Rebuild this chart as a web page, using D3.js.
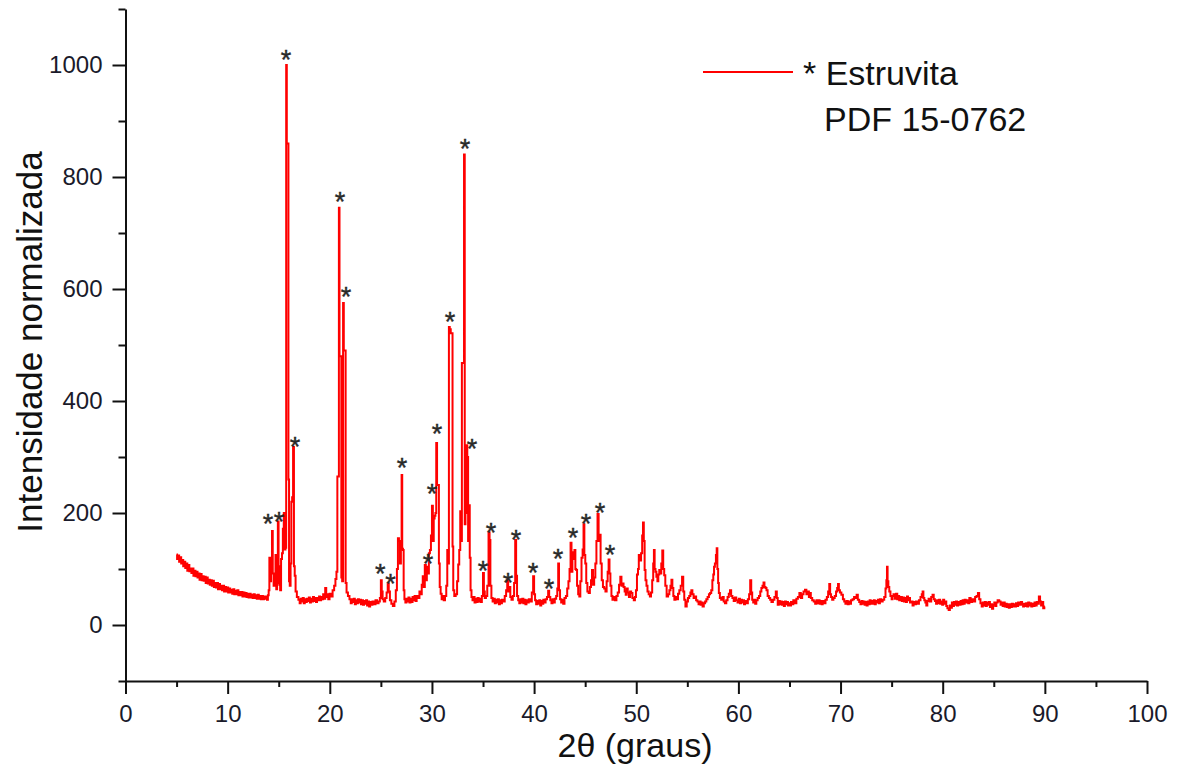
<!DOCTYPE html>
<html><head><meta charset="utf-8">
<script src="https://cdn.jsdelivr.net/npm/d3@7"></script>
<style>body{margin:0;background:#fff}svg text{font-family:Arial,"Liberation Sans",sans-serif}</style>
</head><body><svg id="c" width="1179" height="771"></svg>
<script>
// 2θ (deg), normalised intensity
const scanA = [[5.0,126],[5.1,118],[5.2,124],[5.3,113],[5.4,121],[5.5,110],[5.6,116],[5.7,105],[5.8,113],[5.9,102],[6.0,110],[6.1,97],[6.2,107],[6.3,96],[6.4,101],[6.5,93],[6.6,101],[6.7,88],[6.8,97],[6.9,87],[7.0,95],[7.1,85],[7.2,92],[7.3,81],[7.4,91],[7.5,80],[7.6,87],[7.7,79],[7.8,86],[7.9,75],[8.0,85],[8.1,74],[8.2,81],[8.3,72],[8.4,80],[8.5,70],[8.6,79],[8.7,68],[8.8,75],[8.9,67],[9.0,75],[9.1,64],[9.2,73],[9.3,64],[9.4,70],[9.5,62],[9.6,70],[9.7,60],[9.8,68],[9.9,60],[10.0,67],[10.1,58],[10.2,65],[10.3,58],[10.4,63],[10.5,56],[10.6,64],[10.7,55],[10.8,61],[10.9,55],[11.0,62],[11.1,53],[11.2,59],[11.3,53],[11.4,59],[11.5,51],[11.6,58],[11.7,51],[11.8,57],[11.9,50],[12.0,56],[12.1,49],[12.2,56],[12.3,49],[12.4,54],[12.5,48],[12.6,55],[12.7,48],[12.8,53],[12.9,47],[13.0,54],[13.1,47],[13.2,52],[13.3,46],[13.4,52],[13.5,46],[13.6,51],[13.7,47],[13.8,51],[13.9,45],[13.98,53],
[14.05,62],[14.12,120],[14.2,78],[14.3,95],[14.38,168],[14.45,92],[14.55,70],[14.65,82],[14.72,125],[14.8,64],[14.88,75],[14.95,185],[15.02,105],[15.1,72],[15.18,62],[15.28,118],[15.36,128],[15.45,172],[15.54,200],[15.62,135],[15.7,138],[15.76,1000],[15.82,860],[15.92,860],[15.98,260],[16.04,78],[16.12,70],[16.2,110],[16.27,220],[16.36,228],[16.45,318],[16.53,105],[16.6,88],[16.7,60],[16.85,50],
[17.0,45],[17.1,39],[17.2,47],[17.3,42],[17.4,48],[17.5,39],[17.6,46],[17.7,41],[17.8,47],[17.9,43],[18.0,49],[18.1,40],[18.2,47],[18.3,42],[18.4,50],[18.5,43],[18.6,48],[18.7,41],[18.8,48],[18.9,44],[19.0,51],[19.1,44],[19.2,50],[19.3,46],[19.4,55],[19.5,47],[19.6,66],[19.7,50],[19.8,55],[19.9,46],[20.05,56],[20.2,51],[20.35,62],[20.5,70],[20.6,82],[20.7,95]];
const scanB = [[20.78,265],[20.86,265],[20.92,745],[20.98,480],[21.1,480],[21.16,85],[21.26,78],[21.34,575],[21.4,490],[21.52,490],[21.58,75],[21.7,58],[21.85,52],[22.0,46],[22.1,39],[22.2,46],[22.3,41],[22.4,47],[22.5,37],[22.6,44],[22.7,39],[22.8,46],[22.9,40],[23.0,45],[23.1,37],[23.2,44],[23.3,36],[23.4,43],[23.5,38],[23.6,44],[23.7,35],[23.8,42],[23.9,33],[24.0,41],[24.1,36],[24.25,42],[24.4,37],[24.55,44],[24.7,39],[24.85,42],[24.95,48],[25.05,80],[25.12,60],[25.22,46],[25.35,42],[25.5,48],[25.62,58],[25.72,74],[25.82,60],[25.95,44],[26.1,38],[26.25,34],[26.4,42],[26.52,62],[26.62,100],[26.72,155],[26.82,150],[26.92,110],[27.0,148],[27.06,268],[27.12,136],[27.2,134],[27.26,62],[27.35,46],[27.45,40],[27.55,47],[27.65,42],[27.75,49],[27.85,40],[27.95,47],[28.05,41],[28.15,50],[28.25,44],[28.35,52],[28.45,43],[28.55,52],[28.7,48],[28.85,60],[28.95,55],[29.05,72],[29.15,87],[29.25,68],[29.35,107],[29.45,80],[29.55,104],[29.65,92],[29.75,128],[29.85,134],[29.95,160],[30.05,213],[30.13,150],[30.22,190],[30.3,195],[30.38,200],[30.46,325],[30.54,250],[30.64,250],[30.72,110],[30.8,68],[30.9,56],[31.0,46],[31.1,52],[31.2,44],[31.35,52],[31.45,70],[31.55,134],[31.62,110],[31.7,532],[31.78,528],[31.9,521],[31.98,521],[32.05,140],[32.12,62],[32.25,52],[32.4,55],[32.52,78],[32.62,108],[32.72,134],[32.82,203],[32.9,150],[32.96,468],[33.1,468],[33.18,840],[33.24,180],[33.32,200],[33.42,321],[33.5,300],[33.58,150],[33.66,214],[33.74,120],[33.82,62],[33.92,50],[34.02,44],[34.12,50],[34.22,40],[34.32,47],[34.42,41],[34.52,48],[34.62,42],[34.72,47],[34.82,41],[34.95,52]];
const scanC = [[35.05,93],[35.12,60],[35.22,48],[35.35,52],[35.48,70],[35.6,165],[35.68,152],[35.76,70],[35.88,48],[36.0,42],[36.1,47],[36.2,39],[36.3,45],[36.4,40],[36.5,46],[36.6,37],[36.7,44],[36.8,39],[36.9,45],[37.05,42],[37.2,52],[37.32,62],[37.42,80],[37.5,60],[37.62,68],[37.72,50],[37.85,45],[37.98,52],[38.1,75],[38.2,152],[38.28,88],[38.38,52],[38.5,44],[38.6,39],[38.7,46],[38.8,40],[38.9,47],[39.0,39],[39.1,45],[39.2,37],[39.3,44],[39.4,40],[39.55,46],[39.7,42],[39.85,58],[39.96,87],[40.04,55],[40.15,44],[40.25,37],[40.35,43],[40.45,38],[40.55,44],[40.65,35],[40.75,43],[40.85,38],[40.95,45],[41.05,40],[41.2,46],[41.32,50],[41.43,61],[41.52,50],[41.65,44],[41.75,39],[41.85,46],[41.95,40],[42.1,47],[42.22,52],[42.32,65],[42.4,110],[42.48,62],[42.6,46],[42.7,40],[42.8,45],[42.9,38],[43.05,48],[43.18,52],[43.3,65],[43.42,78],[43.52,100],[43.62,147],[43.7,95],[43.8,118],[43.9,130],[44.0,134],[44.08,100],[44.16,98],[44.25,70],[44.38,55],[44.47,51],[44.58,78],[44.7,120],[44.8,135],[44.88,180],[44.96,125],[45.06,110],[45.15,75],[45.28,60],[45.4,57],[45.52,68],[45.62,80],[45.72,98],[45.82,72],[45.94,85],[46.05,110],[46.15,150],[46.27,198],[46.36,150],[46.46,161],[46.56,110],[46.68,80],[46.8,68],[46.92,65],[47.05,60],[47.15,78],[47.25,95],[47.34,117],[47.42,92],[47.52,70],[47.62,52],[47.72,45],[47.85,50],[48.0,44],[48.12,52],[48.25,58],[48.38,72],[48.5,86],[48.6,70],[48.7,74],[48.81,68],[48.92,60],[49.02,54],[49.11,65],[49.22,58],[49.35,50],[49.45,60],[49.55,57],[49.7,48],[49.82,44],[49.92,50],[50.02,62],[50.12,90],[50.22,100],[50.28,125],[50.4,115],[50.54,128],[50.62,160],[50.7,183],[50.78,150],[50.86,98],[50.95,80],[51.05,70],[51.15,60],[51.28,55],[51.39,51],[51.5,58],[51.62,80],[51.7,110],[51.76,134],[51.84,100],[51.92,95],[52.02,86],[52.12,78],[52.2,90],[52.31,98],[52.4,92],[52.5,110],[52.6,133],[52.68,100],[52.79,89],[52.9,70],[53.05,51],[53.18,55],[53.3,62],[53.4,70],[53.49,81],[53.58,66],[53.68,52],[53.78,45],[53.9,50],[54.02,46],[54.15,56],[54.28,62],[54.42,70],[54.55,86],[54.65,60],[54.75,45],[54.88,33],[55.0,42],[55.12,48],[55.25,52],[55.35,58],[55.44,62],[55.55,55],[55.68,48],[55.8,51],[55.92,44],[56.05,42],[56.15,37],[56.25,42],[56.35,36],[56.45,40],[56.54,33],[56.68,39],[56.8,42],[56.92,46],[57.05,50],[57.18,55],[57.28,57],[57.4,62],[57.5,80],[57.58,90],[57.65,104],[57.75,110],[57.85,125],[57.9,137],[57.98,100],[58.05,75],[58.12,57],[58.25,48],[58.38,45],[58.5,50],[58.62,42],[58.75,39],[58.88,44],[59.0,50],[59.12,56],[59.23,62],[59.35,52],[59.48,48],[59.6,43],[59.72,49],[59.85,44],[59.98,40]];
const scanD = [[60.1,47],[60.2,39],[60.3,45],[60.4,40],[60.5,44],[60.6,37],[60.7,43],[60.85,39],[61.0,46],[61.1,55],[61.21,80],[61.3,58],[61.4,45],[61.5,40],[61.6,45],[61.69,38],[61.82,44],[61.95,48],[62.08,52],[62.2,60],[62.3,66],[62.42,70],[62.5,76],[62.6,68],[62.7,66],[62.8,62],[62.92,52],[63.05,48],[63.17,45],[63.3,41],[63.45,45],[63.6,50],[63.72,60],[63.8,48],[63.9,36],[64.0,43],[64.1,37],[64.2,42],[64.3,36],[64.4,41],[64.5,34],[64.6,42],[64.7,37],[64.8,41],[64.9,35],[65.0,39],[65.1,35],[65.2,41],[65.3,37],[65.45,44],[65.6,39],[65.75,47],[65.9,50],[66.04,57],[66.18,48],[66.3,55],[66.45,60],[66.59,63],[66.72,55],[66.85,60],[66.95,50],[67.03,57],[67.15,48],[67.3,44],[67.45,42],[67.58,38],[67.7,44],[67.8,39],[67.9,44],[68.0,38],[68.1,43],[68.2,37],[68.3,43],[68.45,39],[68.6,45],[68.72,50],[68.85,60],[68.94,73],[69.02,55],[69.12,50],[69.24,45],[69.36,48],[69.5,52],[69.62,60],[69.72,66],[69.79,73],[69.88,62],[70.0,58],[70.16,54],[70.3,46],[70.42,42],[70.53,38],[70.65,43],[70.75,37],[70.85,42],[70.95,38],[71.1,44],[71.25,46],[71.4,50],[71.52,48],[71.63,54],[71.75,45],[71.9,41],[72.0,37],[72.1,43],[72.2,38],[72.3,42],[72.4,36],[72.5,41],[72.6,35],[72.7,42],[72.8,37],[72.9,44],[73.0,38],[73.1,43],[73.2,38],[73.3,44],[73.4,37],[73.5,43],[73.6,40],[73.7,45],[73.8,39],[73.9,46],[74.05,42],[74.2,45],[74.35,50],[74.45,65],[74.52,80],[74.57,104],[74.64,78],[74.72,68],[74.82,60],[74.95,52],[75.05,46],[75.12,52],[75.25,55],[75.38,47],[75.5,56],[75.6,46],[75.68,52],[75.8,44],[75.95,50],[76.05,43],[76.15,49],[76.25,42],[76.35,48],[76.45,41],[76.55,51],[76.65,44],[76.75,48],[76.85,40],[77.0,42],[77.1,35],[77.2,41],[77.3,37],[77.45,42],[77.6,38],[77.75,44],[77.9,50],[78.0,55],[78.07,60],[78.15,48],[78.25,44],[78.35,40],[78.44,35],[78.55,43],[78.68,47],[78.8,42],[78.95,50],[79.06,54],[79.18,46],[79.3,43],[79.4,38],[79.5,44],[79.6,39],[79.7,45],[79.8,38],[79.9,42],[80.0,36],[80.09,45],[80.2,38],[80.3,42],[80.4,34],[80.52,30],[80.65,27],[80.75,35],[80.85,31],[80.95,40],[81.05,34],[81.15,41],[81.25,36],[81.35,42],[81.45,35],[81.57,41],[81.7,36],[81.8,43],[81.9,37],[82.0,44],[82.1,38],[82.2,45],[82.3,40],[82.45,44],[82.55,39],[82.67,48],[82.8,41],[82.95,46],[83.1,42],[83.25,50],[83.38,52],[83.52,57],[83.62,46],[83.77,39],[83.87,33],[83.97,40],[84.07,35],[84.17,41],[84.27,34],[84.37,40],[84.47,36],[84.57,41],[84.67,32],[84.78,37],[84.88,29],[85.0,36],[85.1,40],[85.2,34],[85.3,40],[85.45,44],[85.61,42],[85.72,36],[85.82,40],[85.92,34],[86.02,40],[86.12,33],[86.22,38],[86.32,32],[86.42,37],[86.52,31],[86.62,37],[86.72,32],[86.82,38],[86.92,33],[87.02,37],[87.12,33],[87.22,39],[87.32,34],[87.45,40],[87.6,36],[87.72,41],[87.82,37],[87.92,33],[88.02,38],[88.12,34],[88.22,39],[88.32,33],[88.42,40],[88.52,35],[88.62,39],[88.72,33],[88.82,38],[88.93,34],[89.05,40],[89.15,35],[89.25,41],[89.35,38],[89.48,51],[89.58,42],[89.68,35],[89.78,41],[89.9,30],[90.0,33]];

// struvite reflections marked with "*": [2θ, height of the marker]
const starMarks = [[13.95,191],[15.03,195],[15.71,1021],[16.59,330],[20.99,766],[21.58,598],[24.95,102],[25.95,84],[27.07,291],[29.62,120],[30.01,245],[30.50,352],[31.77,552],[33.24,862],[33.92,325],[35.0,107],[35.78,175],[37.44,87],[38.23,164],[39.89,104],[41.46,75],[42.34,129],[43.81,166],[45.08,191],[46.45,212],[47.43,136]];

const xMajor = [0,10,20,30,40,50,60,70,80,90,100];
const xMinor = [5,15,25,35,45,55,65,75,85,95];
const yMajor = [0,200,400,600,800,1000];
const yMinor = [-100,100,300,500,700,900,1100];
const xTitle = "2θ (graus)";
const yTitle = "Intensidade normalizada";
const legendName = "* Estruvita";
const legendRef = "PDF 15-0762";

const scan = scanA.concat(scanB, scanC, scanD);

const svg = d3.select("#c");
const x = d3.scaleLinear().domain([0, 100]).range([125.5, 1147]);
const y = d3.scaleLinear().domain([-100, 1100]).range([681, 9]);

// data line
svg.append("path")
  .datum(scan)
  .attr("fill", "none")
  .attr("stroke", "#ff0000")
  .attr("stroke-width", 2)
  .attr("stroke-linejoin", "miter")
  .attr("d", d3.line().x(d => x(d[0])).y(d => y(d[1])).curve(d3.curveStep));

// star markers
const starFs = 27;
svg.append("g").selectAll("text").data(starMarks).join("text")
  .attr("x", d => x(d[0]))
  .attr("y", d => y(d[1]) + 0.57 * starFs)
  .attr("text-anchor", "middle")
  .attr("font-size", starFs)
  .attr("fill", "#2a2a2a")
  .attr("stroke", "#2a2a2a").attr("stroke-width", 0.4)
  .text("*");

// axes
function styleAxis(g) {
  g.selectAll("path.domain").attr("stroke", "#111").attr("stroke-width", 2);
  g.selectAll(".tick line").attr("stroke", "#111").attr("stroke-width", 2);
  g.selectAll(".tick text").attr("fill", "#1a1a2a").attr("font-size", 24)
    .attr("font-family", "Arial, 'Liberation Sans', sans-serif");
}
const gxMinor = svg.append("g").attr("transform", "translate(0,681)")
  .call(d3.axisBottom(x).tickValues(xMinor).tickSize(6).tickSizeOuter(0).tickFormat(""));
gxMinor.select("path.domain").remove();
styleAxis(gxMinor);
const gx = svg.append("g").attr("transform", "translate(0,681)")
  .call(d3.axisBottom(x).tickValues(xMajor).tickSize(13).tickSizeOuter(0).tickPadding(11).tickFormat(d3.format("d")));
styleAxis(gx);

const gyMinor = svg.append("g").attr("transform", "translate(125.5,0)")
  .call(d3.axisLeft(y).tickValues(yMinor).tickSize(7).tickSizeOuter(0).tickFormat(""));
gyMinor.select("path.domain").remove();
styleAxis(gyMinor);
const gy = svg.append("g").attr("transform", "translate(125.5,0)")
  .call(d3.axisLeft(y).tickValues(yMajor).tickSize(13).tickSizeOuter(0).tickPadding(10).tickFormat(d3.format("d")));
styleAxis(gy);

// axis titles
svg.append("text")
  .attr("x", 635).attr("y", 757)
  .attr("text-anchor", "middle")
  .attr("font-size", 34).attr("fill", "#111")
  .text(xTitle);
svg.append("text")
  .attr("transform", "translate(42,342) rotate(-90)")
  .attr("text-anchor", "middle")
  .attr("font-size", 35).attr("fill", "#111")
  .text(yTitle);

// legend
svg.append("line").attr("x1", 703).attr("x2", 793).attr("y1", 72).attr("y2", 72)
  .attr("stroke", "#ff0000").attr("stroke-width", 1.8);
svg.append("text").attr("x", 803).attr("y", 85).attr("font-size", 34).attr("fill", "#111")
  .text(legendName);
svg.append("text").attr("x", 824).attr("y", 131).attr("font-size", 34).attr("fill", "#111")
  .text(legendRef);
</script></body></html>
